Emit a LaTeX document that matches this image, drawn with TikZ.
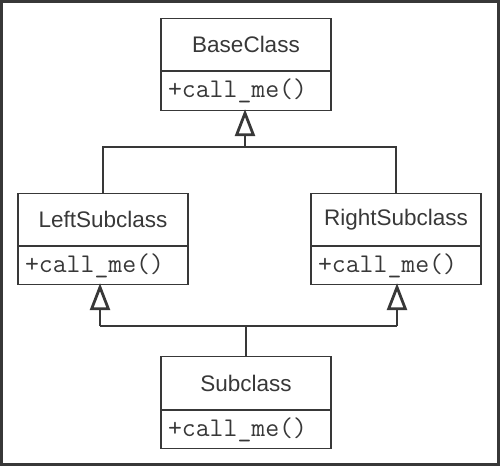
\documentclass[tikz,border=0pt]{standalone}
\usepackage{fontspec}
\setmainfont{Liberation Sans}
\usetikzlibrary{arrows.meta,positioning}
\definecolor{ink}{HTML}{383838}
\tikzset{
  namebox/.style={draw=ink, line width=1.1pt, minimum width=170pt, minimum height=52pt, inner sep=0pt, text=ink, font=\fontsize{22.5}{26}\selectfont, anchor=north},
  methbox/.style={draw=ink, line width=1.1pt, minimum width=170pt, minimum height=38pt, inner sep=0pt, text=ink, text width=156pt, align=left, font=\ttfamily\fontsize{27}{30}\selectfont, anchor=north},
  conn/.style={draw=ink, line width=1.2pt},
  inh/.style={conn, -{Triangle[open, length=27pt, width=20pt, line width=2.8pt]}}
}
\begin{document}
\begin{tikzpicture}[x=1pt, y=-1pt]
\useasboundingbox (0,0) rectangle (500,466);
\draw[draw=ink, line width=3pt] (1.5,1.5) rectangle (498.5,464);
% boxes
\node[namebox] (base) at (246,18) {BaseClass};
\node[methbox, minimum height=39pt] (basem) at (base.south) {+call\_me()};
\node[namebox] (left) at (103,193) {LeftSubclass};
\node[methbox] (leftm) at (left.south) {+call\_me()};
\node[namebox] (right) at (396,193) {RightSubclass};
\node[methbox] (rightm) at (right.south) {+call\_me()};
\node[namebox, minimum height=53pt] (sub) at (246,356) {Subclass};
\node[methbox] (subm) at (sub.south) {+call\_me()};
% connectors
\coordinate (j1) at (245,147);
\coordinate (j2) at (246,326);
\draw[conn] (left.north) |- (j1);
\draw[conn] (right.north) |- (j1);
\draw[inh] (j1) -- ([yshift=2pt]basem.south -| j1);
\draw[conn] (sub.north) -- (j2);
\draw[conn] ([xshift=-3pt]leftm.south |- j2) -- ([xshift=1pt]rightm.south |- j2);
\draw[inh] ([xshift=-3pt]leftm.south |- j2) -- ([xshift=-3pt,yshift=2pt]leftm.south);
\draw[inh] ([xshift=1pt]rightm.south |- j2) -- ([xshift=1pt,yshift=2pt]rightm.south);
\end{tikzpicture}
\end{document}
